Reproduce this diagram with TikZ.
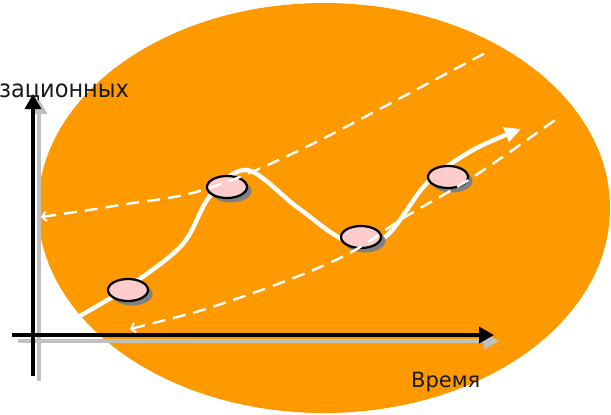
\documentclass[tikz,border=0pt]{standalone}
\usepackage{fontspec}
\setmainfont{DejaVu Sans}
\newfontfamily\narrowsans[FakeStretch=0.92]{DejaVu Sans}
\usetikzlibrary{arrows.meta,shapes.geometric}
\definecolor{bgorange}{HTML}{FF9900}
\definecolor{markpink}{HTML}{FFCCCC}
\definecolor{axshadow}{HTML}{C0C0C0}
\definecolor{markshadow}{HTML}{808080}
\tikzset{
  axisline/.style={line width=3.4bp,-{Triangle[length=15bp,width=16bp]}},
  trendline/.style={white,line width=2.4bp,dash pattern=on 13bp off 8bp,
    {Straight Barb[length=4bp,width=10bp,line width=2bp]}-},
  pathline/.style={white,line width=4.4bp,line cap=round,
    -{Triangle[length=16bp,width=15bp]}},
  marker/.style={ellipse,minimum width=40bp,minimum height=22bp,inner sep=0,
    draw=black,line width=2.2bp,fill=markpink},
  markerback/.style={ellipse,minimum width=41bp,minimum height=23bp,inner sep=0,
    fill=markshadow},
  label/.style={inner sep=0,text=black!90}
}
\begin{document}
\begin{tikzpicture}[x=1bp,y=-1bp]
  \useasboundingbox (0,0) rectangle (611,414);
  \clip (0,0) rectangle (611,414);
  % background ellipse
  \fill[bgorange] (324,208) ellipse [x radius=286, y radius=205];
  % axes with their grey shadows
  \coordinate (vs0) at (39,381); \coordinate (vs1) at (39,99);
  \coordinate (hs0) at (18,341); \coordinate (hs1) at (499,341);
  \coordinate (v0) at (33,376);  \coordinate (v1) at (33,94);
  \coordinate (h0) at (12,335);  \coordinate (h1) at (494,335);
  \draw[axisline,axshadow] (vs0) -- (vs1);
  \draw[axisline,axshadow] (hs0) -- (hs1);
  \draw[axisline,black] (v0) -- (v1);
  \draw[axisline,black] (h0) -- (h1);
  % axis labels
  \node[label,anchor=base west,font=\narrowsans\fontsize{24.4bp}{28bp}\selectfont]
    (ylab) at (-1,97) {зационных};
  \node[label,anchor=base west,font=\fontsize{21bp}{24bp}\selectfont]
    (xlab) at (411,387) {Время};
  % development path
  \draw[pathline] plot[smooth,tension=0.55] coordinates
    {(78,317) (128,287) (182,245) (210,196) (247,170) (297,207)
     (345,240) (385,237) (427,183) (473,150) (521,129)};
  % stage markers
  \foreach \n/\mx/\my in {a/128/290,b/227/187,c/361/237,d/448/177}{
    \node[markerback] (\n s) at (\mx+4,\my+4) {};
    \node[marker] (\n) at (\mx,\my) {};
  }
  % corridor bounds
  \draw[trendline] plot[smooth,tension=0.6] coordinates
    {(41,217) (120,205) (203,190) (300,150) (440,77) (487,52)};
  \draw[trendline] plot[smooth,tension=0.6] coordinates
    {(130,329) (233,300) (340,258) (405,217) (473,177) (555,120)};
\end{tikzpicture}
\end{document}
